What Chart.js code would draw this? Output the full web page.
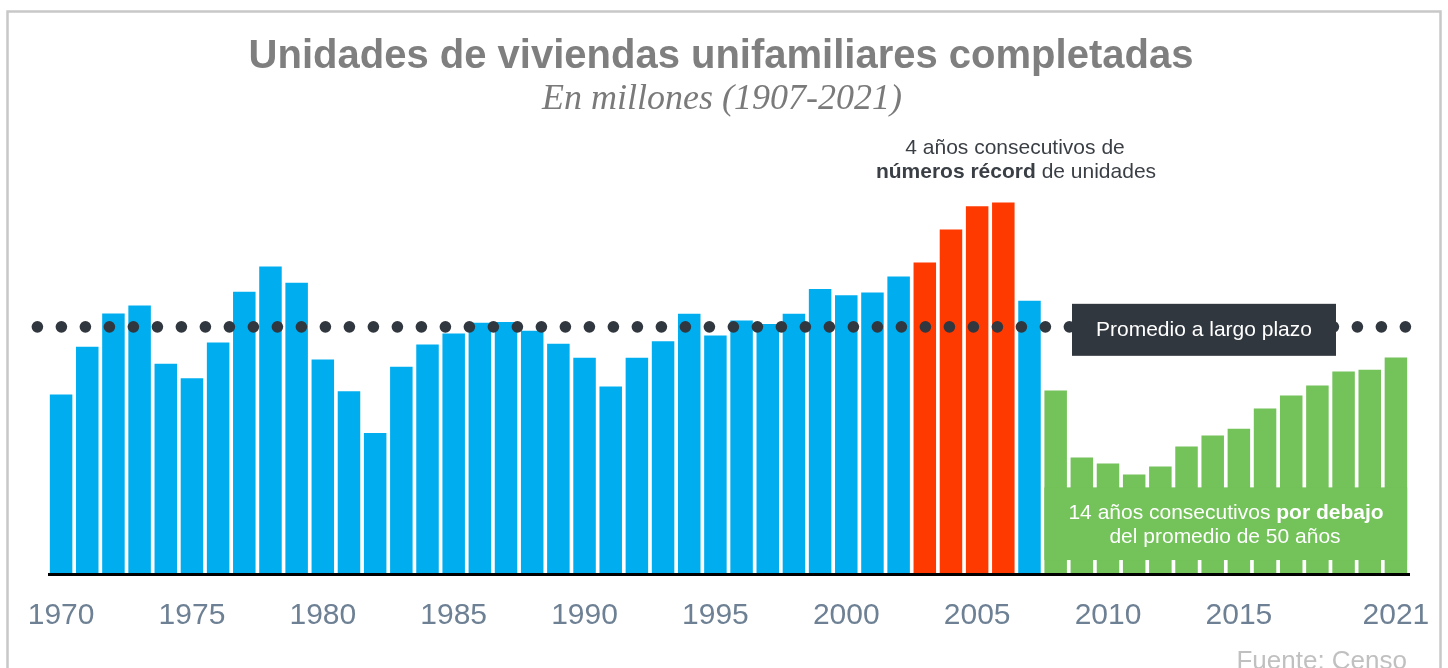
<!DOCTYPE html>
<html>
<head>
<meta charset="utf-8">
<script src="https://cdn.jsdelivr.net/npm/chart.js@4.4.1/dist/chart.umd.min.js"></script>
<style>
  html, body { margin: 0; padding: 0; background: #fff; }
  canvas { display: block; }
</style>
</head>
<body>
<canvas id="unitsChart" width="1448" height="668"></canvas>
<script>
// single-family units completed, millions
const years = ['1970', '1971', '1972', '1973', '1974', '1975', '1976', '1977', '1978', '1979',
    '1980', '1981', '1982', '1983', '1984', '1985', '1986', '1987', '1988', '1989',
    '1990', '1991', '1992', '1993', '1994', '1995', '1996', '1997', '1998', '1999',
    '2000', '2001', '2002', '2003', '2004', '2005', '2006', '2007', '2008', '2009',
    '2010', '2011', '2012', '2013', '2014', '2015', '2016', '2017', '2018', '2019',
    '2020', '2021'];
const units = [0.798, 1.011, 1.159, 1.195, 0.935, 0.871, 1.030, 1.256, 1.369, 1.297,
    0.954, 0.813, 0.627, 0.922, 1.021, 1.070, 1.118, 1.122, 1.082, 1.025,
    0.962, 0.834, 0.962, 1.036, 1.158, 1.061, 1.128, 1.113, 1.158, 1.269,
    1.241, 1.253, 1.324, 1.387, 1.534, 1.638, 1.654, 1.216, 0.816, 0.517,
    0.490, 0.441, 0.477, 0.566, 0.615, 0.646, 0.736, 0.794, 0.838, 0.901,
    0.909, 0.963];
const tickLabels = ['1970', '1975', '1980', '1985', '1990', '1995', '2000', '2005', '2010', '2015', '2021'];
const recordYears = ['2003', '2004', '2005', '2006'];
const belowYears = ['2008', '2009', '2010', '2011', '2012', '2013', '2014',
    '2015', '2016', '2017', '2018', '2019', '2020', '2021'];
const longTermAverage = 1.10;

const BLUE = '#00aeef';
const RED = '#ff3a00';
const GREEN = '#74c25a';
const DARK = '#31373f';
const SANS = "'Liberation Sans', Arial, sans-serif";

function barColor(c) {
    const y = years[c.dataIndex];
    if (recordYears.includes(y)) return RED;
    if (belowYears.includes(y)) return GREEN;
    return BLUE;
}

// draws a line of mixed bold / regular pieces centred on x
function drawRuns(c, runs, x, y, size) {
    let total = 0;
    runs.forEach(r => {
        c.font = (r.bold ? 'bold ' : '') + size + 'px ' + SANS;
        r.w = c.measureText(r.text).width;
        total += r.w;
    });
    let cx = x - total / 2;
    runs.forEach(r => {
        c.font = (r.bold ? 'bold ' : '') + size + 'px ' + SANS;
        c.fillText(r.text, cx, y);
        cx += r.w;
    });
}

const decorations = {
    id: 'decorations',
    beforeDraw(chart) {
        const c = chart.ctx;
        c.save();
        c.fillStyle = '#fff';
        c.fillRect(0, 0, chart.width, chart.height);
        c.strokeStyle = '#c8c8c8';
        c.lineWidth = 2.5;
        c.strokeRect(7.5, 11.5, 1433, 700);
        c.restore();
    },
    afterDatasetsDraw(chart) {
        const c = chart.ctx;
        const xs = chart.scales.x;
        const ys = chart.scales.y;
        const meta = chart.getDatasetMeta(0);
        c.save();

        // green band holding the below-average note
        const firstBar = meta.data[years.indexOf(belowYears[0])];
        const lastBar = meta.data[years.indexOf(belowYears[belowYears.length - 1])];
        const bandTop = ys.getPixelForValue(0.384);
        const bandBottom = ys.getPixelForValue(0.06);
        c.fillStyle = GREEN;
        c.fillRect(firstBar.x - firstBar.width / 2, bandTop,
            lastBar.x + lastBar.width / 2 - (firstBar.x - firstBar.width / 2), bandBottom - bandTop);

        // baseline
        c.strokeStyle = '#000';
        c.lineWidth = 3;
        c.beginPath();
        c.moveTo(xs.left, ys.bottom + 1);
        c.lineTo(xs.right + 1, ys.bottom + 1);
        c.stroke();

        // dotted long-term average
        const avgY = ys.getPixelForValue(longTermAverage);
        c.fillStyle = DARK;
        for (let x = xs.left - 10.6; x <= xs.right; x += 24) {
            c.beginPath();
            c.arc(x, avgY, 5.8, 0, Math.PI * 2);
            c.fill();
        }
        c.fillRect(1072, avgY - 23, 264, 52);
        c.fillStyle = '#fff';
        c.textAlign = 'center';
        c.textBaseline = 'middle';
        c.font = '21px ' + SANS;
        c.fillText('Promedio a largo plazo', 1204, avgY + 3);

        // notes
        c.textAlign = 'left';
        c.textBaseline = 'alphabetic';
        drawRuns(c, [{ text: '14 años consecutivos ' }, { text: 'por debajo', bold: true }], 1226, 519, 21);
        drawRuns(c, [{ text: 'del promedio de 50 años' }], 1225, 543, 21);
        c.fillStyle = '#3a3f45';
        drawRuns(c, [{ text: '4 años consecutivos de' }], 1015, 154, 21);
        drawRuns(c, [{ text: 'números récord', bold: true }, { text: ' de unidades' }], 1016, 178, 21);

        // x tick labels
        c.fillStyle = '#6e8094';
        c.textAlign = 'center';
        c.font = '30px ' + SANS;
        tickLabels.forEach(t => {
            c.fillText(t, xs.getPixelForValue(years.indexOf(t)), 624);
        });

        // titles and source
        c.fillStyle = '#7f7f7f';
        c.font = 'bold 40px ' + SANS;
        c.fillText('Unidades de viviendas unifamiliares completadas', 721, 68);
        c.fillStyle = '#7a7a7a';
        c.font = "italic 36px 'Liberation Serif', 'Times New Roman', serif";
        c.fillText('En millones (1907-2021)', 722, 109);
        c.fillStyle = '#c0c0c0';
        c.textAlign = 'right';
        c.font = '26px ' + SANS;
        c.fillText('Fuente: Censo', 1407, 669);
        c.restore();
    }
};

const ctx = document.getElementById('unitsChart').getContext('2d');
const unitsChart = new Chart(ctx, {
    type: 'bar',
    data: {
        labels: years,
        datasets: [{
            label: 'Unidades completadas',
            data: units,
            backgroundColor: barColor,
            borderWidth: 0,
            barPercentage: 0.86,
            categoryPercentage: 1
        }]
    },
    options: {
        responsive: false,
        animation: false,
        layout: {
            padding: { left: 48, right: 39, top: 125, bottom: 94.5 }
        },
        plugins: {
            legend: { display: false },
            title: { display: false },
            tooltip: { enabled: false }
        },
        scales: {
            x: { display: false },
            y: { display: false, min: 0, max: 2.0 }
        }
    },
    plugins: [decorations]
});
</script>
</body>
</html>
